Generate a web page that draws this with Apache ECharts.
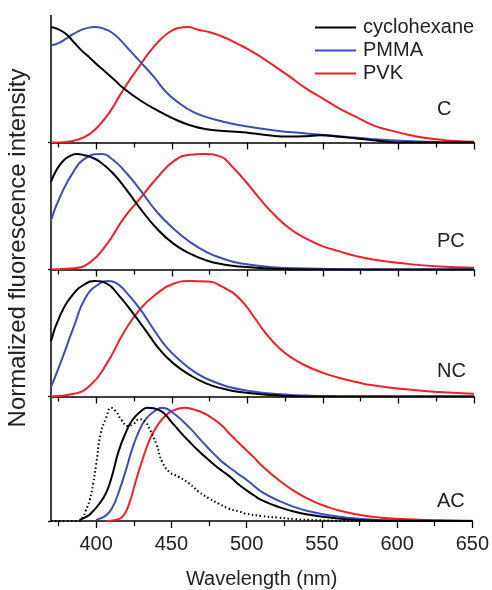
<!DOCTYPE html>
<html>
<head>
<meta charset="utf-8">
<script src="https://cdn.jsdelivr.net/npm/echarts@6/dist/echarts.min.js"></script>
<style>
html,body{margin:0;padding:0;background:#fff;}
#chart{width:492px;height:590px;}
</style>
</head>
<body>
<div id="chart"></div>
<script>
// ---- data (wavelength nm, normalized intensity) ----
const seriesNames = ['cyclohexane', 'PMMA', 'PVK'];
const panelLabels = ['C', 'PC', 'NC', 'AC'];
const majorTicks = [400, 450, 500, 550, 600, 650];
const minorTicks = [375, 425, 475, 525, 575, 625];

// Panel C
const cCyclo = [[370,1.0],[375,0.98],[380,0.94],[385,0.87],[390,0.80],[396,0.73],[400,0.68],[407,0.60],[413,0.53],[418,0.47],[429,0.366],[440,0.28],[451,0.207],[462,0.15],[473,0.115],[484,0.1],[495,0.09],[506,0.075],[517,0.058],[528,0.052],[539,0.055],[548,0.062],[561,0.049],[572,0.035],[583,0.02],[594,0.005],[605,0],[650,0]];
const cPmma = [[370,0.84],[375,0.86],[380,0.9],[385,0.94],[390,0.975],[395,0.995],[399,1.0],[405,0.985],[410,0.955],[415,0.9],[422,0.8],[429,0.7],[438,0.57],[446,0.44],[455,0.34],[464,0.265],[473,0.22],[484,0.18],[495,0.15],[517,0.107],[539,0.078],[561,0.055],[583,0.029],[605,0.012],[627,0.005],[650,0]];
const cPvk = [[370,0],[380,0.005],[389,0.03],[396,0.078],[402,0.15],[409,0.265],[415,0.395],[422,0.54],[429,0.67],[435,0.78],[442,0.885],[448.5,0.957],[455,0.994],[460,1.0],[468,0.975],[475,0.955],[482,0.925],[489,0.885],[495,0.845],[500,0.81],[506,0.765],[517,0.67],[528,0.57],[539,0.467],[550,0.38],[561,0.294],[572,0.222],[583,0.15],[594,0.107],[605,0.072],[616,0.043],[627,0.026],[638,0.012],[650,0.006]];

// Panel PC
const pcCyclo = [[370,0.76],[374,0.87],[378,0.94],[382,0.98],[387,1.0],[392,0.99],[396,0.975],[402,0.936],[411,0.834],[420,0.69],[429,0.53],[440,0.355],[451,0.224],[462,0.137],[473,0.078],[484,0.044],[495,0.026],[517,0.006],[539,0],[650,0]];
const pcPmma = [[370,0.427],[376,0.63],[385,0.85],[393,0.965],[403,1.0],[411,0.95],[420,0.834],[429,0.69],[440,0.5],[451,0.355],[462,0.238],[473,0.151],[484,0.093],[495,0.055],[517,0.02],[539,0.008],[561,0.003],[583,0],[650,0]];
const pcPvk = [[370,0],[385,0.01],[396,0.064],[407,0.22],[418,0.44],[429,0.616],[440,0.79],[451,0.936],[462,0.994],[471,1.0],[482,0.98],[490,0.89],[499,0.76],[508,0.616],[517,0.485],[528,0.355],[539,0.267],[550,0.2],[561,0.157],[572,0.116],[583,0.087],[605,0.05],[627,0.026],[650,0.015]];

// Panel NC
const ncCyclo = [[370,0.478],[376,0.70],[385,0.89],[393,0.977],[399,1.0],[407,0.977],[415,0.874],[424,0.727],[433,0.566],[442,0.405],[451,0.287],[462,0.185],[473,0.111],[484,0.067],[495,0.038],[517,0.012],[539,0],[650,0]];
const ncPmma = [[370,0.082],[376,0.28],[385,0.6],[393,0.86],[402,0.977],[408,1.0],[413,0.985],[420,0.9],[429,0.757],[438,0.58],[446,0.434],[455,0.317],[466,0.205],[477,0.132],[488,0.082],[499,0.053],[517,0.023],[539,0.008],[561,0],[650,0]];
const ncPvk = [[370,0],[385,0.023],[396,0.097],[407,0.287],[418,0.55],[429,0.757],[440,0.89],[451,0.977],[462,1.0],[473,0.997],[484,0.947],[495,0.845],[504,0.695],[512,0.55],[521,0.42],[530,0.33],[539,0.264],[550,0.205],[561,0.161],[572,0.126],[583,0.097],[605,0.062],[627,0.038],[650,0.023]];

// Panel AC
const acCyclo = [[389,0.01],[393,0.035],[396,0.06],[402,0.15],[407,0.26],[411,0.42],[415,0.62],[420,0.79],[424,0.89],[429,0.96],[434,1.0],[442,0.98],[451,0.86],[457,0.77],[462,0.70],[468,0.62],[473,0.56],[479,0.49],[484,0.44],[490,0.38],[495,0.32],[499,0.28],[505,0.225],[510,0.184],[521,0.125],[532,0.082],[544,0.05],[555,0.03],[566,0.015],[577,0.006],[590,0.002],[650,0]];
const acPmma = [[400,0.01],[406.6,0.05],[411,0.125],[415.4,0.27],[420,0.46],[424.3,0.65],[428.7,0.8],[433,0.9],[438.7,0.97],[444,1.0],[451,0.956],[462,0.825],[473,0.665],[480,0.57],[484,0.52],[490,0.46],[495,0.41],[499,0.373],[505,0.31],[510,0.257],[521.5,0.178],[532.5,0.12],[543.6,0.08],[554.6,0.05],[565.7,0.032],[576.7,0.017],[587.7,0.009],[610,0.002],[650,0]];
const acPvk = [[406.6,0],[413,0.01],[417.7,0.04],[422,0.155],[426.5,0.36],[431,0.55],[435.3,0.71],[439.8,0.825],[446.4,0.935],[453,0.985],[458.5,1.0],[466,0.98],[472,0.95],[477,0.91],[483,0.85],[488,0.78],[494,0.70],[499,0.636],[505,0.56],[510,0.49],[521.5,0.36],[532.5,0.257],[543.6,0.178],[554.6,0.12],[565.7,0.08],[576.7,0.05],[587.7,0.032],[598.8,0.02],[621,0.009],[643,0.003],[650,0.003]];
const acDotted = [[370,0],[388,0],[391,0.03],[393,0.09],[395.6,0.18],[398,0.33],[400,0.5],[403,0.77],[406.6,0.91],[410,1.0],[413,0.97],[417,0.89],[421,0.84],[425,0.86],[429,0.9],[433,0.87],[436,0.8],[440,0.68],[444,0.52],[449,0.43],[455,0.39],[462,0.33],[468,0.26],[475,0.2],[482,0.15],[488,0.11],[495,0.085],[499,0.067],[510,0.044],[521,0.03],[532,0.017],[545,0.008],[560,0.002],[575,0],[650,0]];

const panels = [
  [cCyclo, cPmma, cPvk],
  [pcCyclo, pcPmma, pcPvk],
  [ncCyclo, ncPmma, ncPvk],
  [acCyclo, acPmma, acPvk]
];

// ---- styles / layout ----
const colors = ['#000000', '#3c4db5', '#f0202a'];
const FONT = 'Liberation Sans, Arial, Helvetica, sans-serif';
const gridTop = 15.5, gridH = 127, gridLeft = 51, gridRight = 18;
const labelY = [111.7, 243, 373, 503];

const grids = [], xAxes = [], yAxes = [], series = [], graphics = [];
panels.forEach((p, i) => {
  grids.push({ left: gridLeft, right: gridRight, top: gridTop + gridH * i, height: gridH });
  const last = i === panels.length - 1;
  xAxes.push({
    type: 'value', gridIndex: i, min: 370, max: 650, position: 'bottom',
    axisLine: { show: true, onZero: false, lineStyle: { color: '#000', width: 1.5 } },
    axisTick: { show: true, customValues: majorTicks, length: 7, lineStyle: { color: '#000', width: 1.3 } },
    axisLabel: { show: last, customValues: majorTicks, margin: 13, color: '#222', fontSize: 20, fontFamily: FONT },
    splitLine: { show: false },
    name: last ? 'Wavelength (nm)' : '', nameLocation: 'middle', nameGap: 48,
    nameTextStyle: { fontSize: 20, color: '#222', fontFamily: FONT }
  });
  xAxes.push({
    type: 'value', gridIndex: i, min: 370, max: 650, position: 'bottom',
    axisLine: { show: false },
    axisTick: { show: true, customValues: minorTicks, length: 5, lineStyle: { color: '#000', width: 1.3 } },
    axisLabel: { show: false }, splitLine: { show: false }
  });
  yAxes.push({
    type: 'value', gridIndex: i, min: 0, max: 1.1,
    axisLine: { show: true, lineStyle: { color: '#000', width: 1.5 } },
    axisTick: { show: true, customValues: [0], length: 3, lineStyle: { color: '#000', width: 1.3 } },
    axisLabel: { show: false }, splitLine: { show: false }
  });
  p.forEach((d, k) => {
    series.push({
      type: 'line', name: seriesNames[k], xAxisIndex: i * 2, yAxisIndex: i,
      data: d, showSymbol: false, symbol: 'none', smooth: 0.5,
      lineStyle: { color: colors[k], width: 2 }, itemStyle: { color: colors[k] },
      z: k === 2 ? 3 : (k === 1 ? 4 : 5), animation: false
    });
  });
  graphics.push({
    type: 'text', left: 452 - 15, top: labelY[i] - 12,
    style: { text: panelLabels[i], x: 0, y: 0, fill: '#222', fontSize: 20, fontFamily: FONT,
      width: 30, align: 'center' }
  });
});
series.push({
  type: 'line', name: 'dotted', xAxisIndex: 6, yAxisIndex: 3, data: acDotted,
  showSymbol: false, symbol: 'none', smooth: 0.5,
  lineStyle: { color: '#000', width: 2, type: [1.5, 2.5] }, z: 6, animation: false
});

graphics.push({
  type: 'text', rotation: Math.PI / 2, x: 6, y: 248,
  style: { text: 'Normalized fluorescence intensity', fill: '#222', fontSize: 24, fontFamily: FONT,
    align: 'center', verticalAlign: 'top' }
});

const chart = echarts.init(document.getElementById('chart'), null, { renderer: 'canvas' });
chart.setOption({
  animation: false,
  backgroundColor: '#fff',
  grid: grids, xAxis: xAxes, yAxis: yAxes, series: series,
  legend: {
    data: seriesNames.map(n => ({ name: n, icon: 'rect' })),
    orient: 'vertical', left: 310, top: 12, itemWidth: 41, itemHeight: 2, itemGap: 2,
    textStyle: { fontSize: 20, color: '#222', fontFamily: FONT, lineHeight: 21, padding: [0, 0, 0, 2] }
  },
  graphic: graphics
});
</script>
</body>
</html>
